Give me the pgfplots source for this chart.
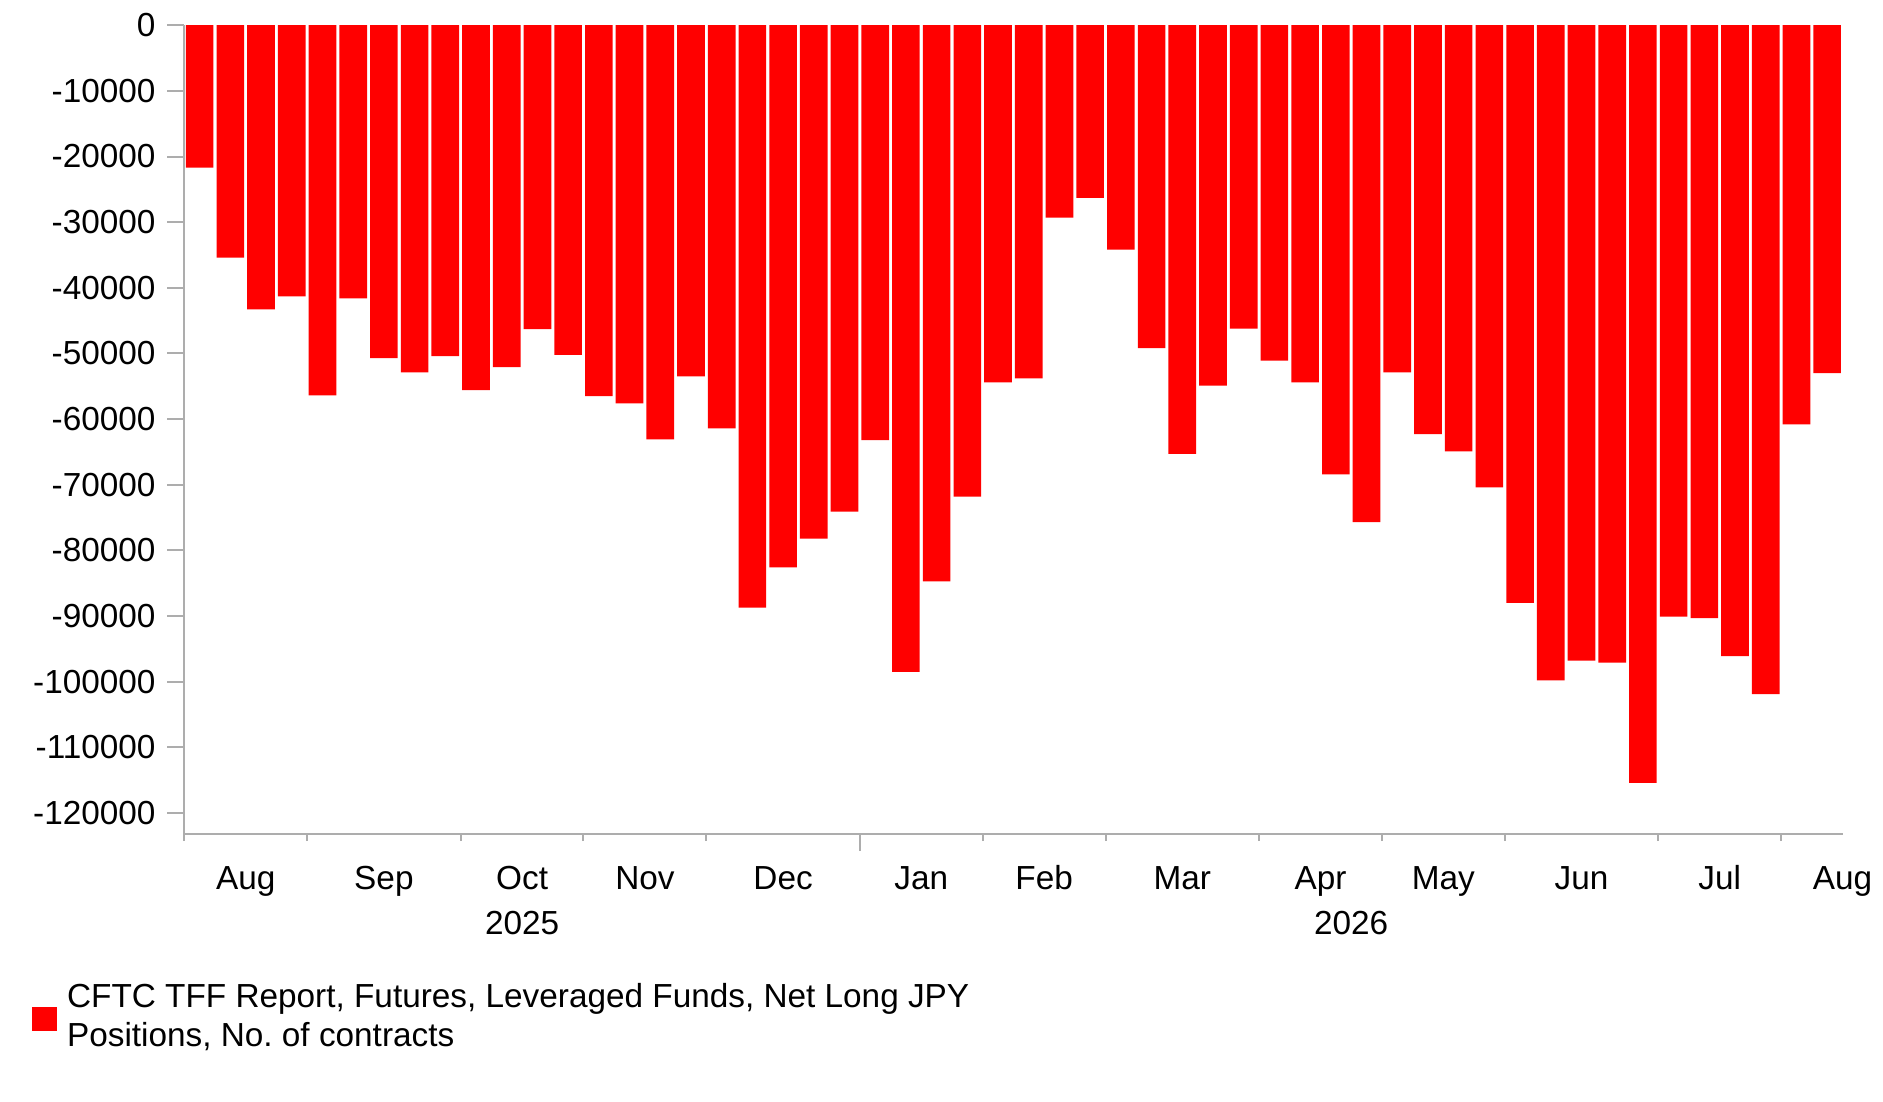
\documentclass[border=0pt]{standalone}
\usepackage{pgfplots}
\pgfplotsset{compat=1.18}
\usepackage{pgfplotstable}
\usepackage{fontspec}
\setmainfont{Liberation Sans}
\frenchspacing
\definecolor{axgray}{RGB}{173,173,173}
\definecolor{barred}{RGB}{255,0,0}
\pgfplotstableread{
x y
1 -21700
2 -35400
3 -43300
4 -41300
5 -56400
6 -41600
7 -50700
8 -52900
9 -50400
10 -55600
11 -52100
12 -46300
13 -50200
14 -56500
15 -57600
16 -63100
17 -53500
18 -61400
19 -88700
20 -82600
21 -78200
22 -74100
23 -63200
24 -98500
25 -84700
26 -71800
27 -54400
28 -53800
29 -29300
30 -26300
31 -34200
32 -49200
33 -65300
34 -54900
35 -46200
36 -51100
37 -54400
38 -68400
39 -75700
40 -52900
41 -62300
42 -64900
43 -70400
44 -88000
45 -99800
46 -96800
47 -97100
48 -115400
49 -90100
50 -90300
51 -96100
52 -101900
53 -60800
54 -53000
}\datatable
\begin{document}
\begin{tikzpicture}
\useasboundingbox (0,0) rectangle (564.9pt,330.3pt);
\begin{axis}[
  at={(55.29pt,80.1pt)}, anchor=south west,
  scale only axis, width=497.46pt, height=242.64pt,
  xmin=0.5, xmax=54.5, ymin=-123200, ymax=0,
  axis x line*=bottom, axis y line*=left,
  axis line style={draw=axgray, line width=0.7pt},
  tick align=outside,
  major tick length=5.1pt, minor tick length=2.1pt,
  every tick/.style={draw=axgray, line width=0.6pt},
  ytick={0,-10000,-20000,-30000,-40000,-50000,-60000,-70000,-80000,-90000,-100000,-110000,-120000},
  yticklabels={0,-10000,-20000,-30000,-40000,-50000,-60000,-70000,-80000,-90000,-100000,-110000,-120000},
  scaled y ticks=false,
  xtick={2.5,7,11.5,15.5,20,24.5,28.5,33,37.5,41.5,46,50.5,54.5},
  xticklabels={Aug,Sep,Oct,Nov,Dec,Jan,Feb,Mar,Apr,May,Jun,Jul,Aug},
  xtick style={draw=none},
  minor xtick={0.5,4.5,9.5,13.5,17.5,26.5,30.5,35.5,39.5,43.5,48.5,52.5},
  minor x tick style={draw=axgray, line width=0.6pt},
  extra x ticks={22.5}, extra x tick labels={},
  extra x tick style={xtick style={draw=axgray, line width=0.6pt}},
  tick label style={font=\fontsize{10}{12}\selectfont, text=black},
  xticklabel style={anchor=base, yshift=-11.5pt},
  yticklabel style={anchor=east},
  legend style={draw=none, fill=none, at={(axis description cs:-0.0918,-0.1846)}, anchor=north west,
    inner sep=0pt, outer sep=0pt, column sep=3pt,
    nodes={inner sep=0pt, align=left, font=\fontsize{10}{11.8}\selectfont}},
  legend cell align=left,
  legend image code/.code={\fill[barred] (0pt,-4.05pt) rectangle (7.5pt,3.3pt);},
  clip=false,
]
\addplot[ybar, bar width=0.9, bar shift=0pt, draw=none, fill=barred] table[x=x,y=y] {\datatable};
\addlegendentry{CFTC TFF Report, Futures, Leveraged Funds, Net Long JPY\\Positions, No. of contracts}
\node[anchor=base, font=\fontsize{10}{12}\selectfont] at (axis cs:11.5,-123200) [yshift=-30pt] {2025};
\node[anchor=base, font=\fontsize{10}{12}\selectfont] at (axis cs:38.5,-123200) [yshift=-30pt] {2026};
\end{axis}
\end{tikzpicture}
\end{document}
